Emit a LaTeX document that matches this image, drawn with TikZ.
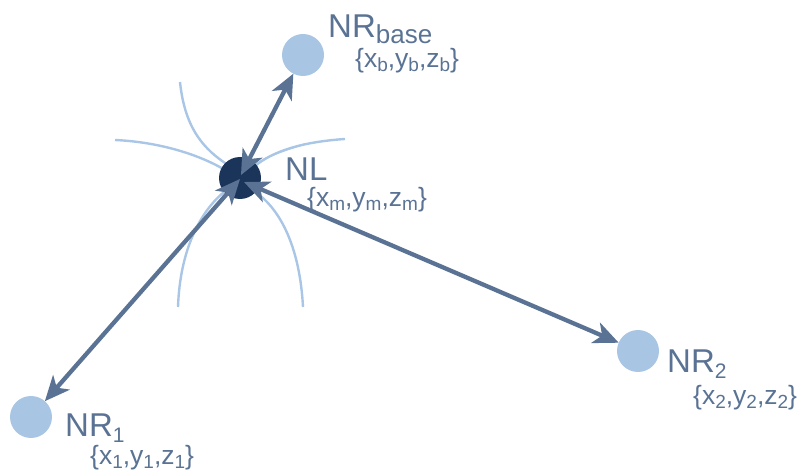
\documentclass[tikz,border=0pt]{standalone}
\usepackage{fontspec}
\setmainfont{Liberation Sans}
\usetikzlibrary{arrows.meta}
\definecolor{arrc}{HTML}{5A7394}
\definecolor{txtc}{HTML}{5A7394}
\definecolor{lightc}{HTML}{A9C5E4}
\definecolor{darkc}{HTML}{1B355A}
\definecolor{fieldc}{HTML}{A9C6E6}
\newcommand{\bigname}[2]{\fontsize{33}{33}\selectfont NR\raisebox{-6pt}{\fontsize{#2}{#2}\selectfont #1}}
\newcommand{\crd}[1]{\fontsize{26.5}{26.5}\selectfont\{x\raisebox{-4pt}{\fontsize{19}{19}\selectfont #1},y\raisebox{-4pt}{\fontsize{19}{19}\selectfont #1},z\raisebox{-4pt}{\fontsize{19}{19}\selectfont #1}\}}
\tikzset{
  lightdot/.style={circle,fill=lightc,minimum size=42pt,inner sep=0pt,outer sep=0pt},
  darkdot/.style={circle,fill=darkc,minimum size=42pt,inner sep=0pt,outer sep=0pt},
  conn/.style={line width=4.3pt,draw=arrc,{Stealth[length=25pt,width=22pt,inset=7pt]}-{Stealth[length=25pt,width=22pt,inset=7pt]}},
  field/.style={line width=2.4pt,draw=fieldc},
  lbl/.style={text=txtc,anchor=base west,inner sep=0pt}
}
\begin{document}
\begin{tikzpicture}[x=1pt,y=-1pt]
\useasboundingbox (0,0) rectangle (801,473);
% field lines
\draw[field] (180,82) .. controls (185,130) and (205,150) .. (228,165);
\draw[field] (115,140) .. controls (160,142) and (200,155) .. (225,170);
\draw[field] (345,139) .. controls (300,142) and (272,152) .. (255,166);
\draw[field,line width=1.5pt] (305,144) .. controls (285,150) and (268,156) .. (256,164);
\draw[field] (178,307) .. controls (180,250) and (200,212) .. (224,192);
\draw[field] (303,307) .. controls (300,250) and (282,212) .. (258,194);
% nodes
\node[darkdot] (NL) at (240,178) {};
\node[lightdot] (NRb) at (303,55) {};
\node[lightdot] (NR1) at (31,417) {};
\node[lightdot] (NR2) at (638,351) {};
\coordinate (tb) at (241,175);
\coordinate (t1) at (240,179);
\coordinate (t2) at (244,182);
% connectors
\draw[conn] (tb) -- (NRb);
\draw[conn] (t1) -- (NR1);
\draw[conn] (t2) -- (NR2);
% labels
\node[lbl] (lb) at (328,38) {\bigname{base}{26}};
\node[lbl] (cb) at (355,68) {\crd{b}};
\node[lbl] (lnl) at (285,181) {\fontsize{33}{33}\selectfont NL};
\node[lbl] (cm) at (307,207) {\crd{m}};
\node[lbl] (l1) at (65,436) {\bigname{1}{21}};
\node[lbl] (c1) at (90,464) {\crd{1}};
\node[lbl] (l2) at (667,372) {\bigname{2}{21}};
\node[lbl] (c2) at (693,404) {\crd{2}};
\end{tikzpicture}
\end{document}
